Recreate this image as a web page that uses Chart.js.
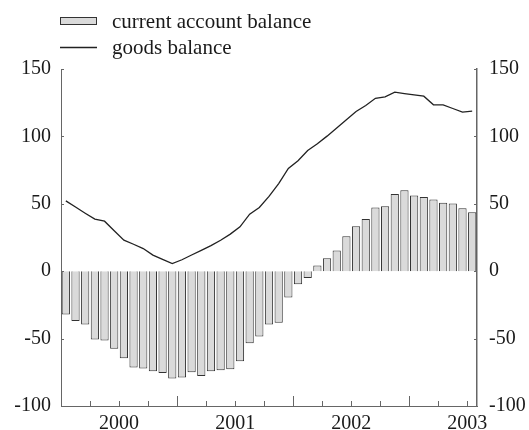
<!DOCTYPE html>
<html>
<head>
<meta charset="utf-8">
<script src="https://cdn.jsdelivr.net/npm/chart.js@4/dist/chart.umd.min.js"></script>
<style>
  html, body { margin: 0; padding: 0; background: #fff; }
  #wrap { width: 529px; height: 430px; }
</style>
</head>
<body>
<div id="wrap"><canvas id="chart" width="529" height="430"></canvas></div>
<script>
// monthly, Jan 2000 - Jul 2003
const months = [];
for (let y = 2000; y <= 2003; y++) {
  for (let m = 1; m <= 12; m++) {
    if (y == 2003 && m > 7) break;
    months.push(y + "-" + String(m).padStart(2, "0"));
  }
}

const currentAccount = [
  -32.1, -36.9, -39.5, -50.7, -51.4, -57.6, -64.5, -71.4, -72.2, -74.2, -75.5, -79.6,
  -78.9, -74.9, -77.7, -74.2, -73.4, -72.7, -66.8, -53.4, -48.4, -39.5, -38.3, -19.5,
  -9.6, -5.0, 4.2, 9.6, 15.4, 26.0, 33.4, 38.8, 47.3, 48.2, 57.3, 60.1,
  56.2, 55.1, 53.2, 50.7, 50.2, 46.7, 43.8,
];

const goodsBalance = [
  52.2, 47.6, 43.0, 38.6, 37.1, 30.0, 23.0, 20.0, 16.8, 11.9, 8.8, 5.7,
  8.5, 12.0, 15.5, 19.0, 23.0, 27.5, 32.9, 42.3, 47.3, 55.5, 65.0, 76.2,
  82.0, 89.5, 94.5, 100.2, 106.2, 112.3, 118.5, 122.9, 128.3, 129.3, 132.8, 131.8,
  130.8, 129.8, 123.4, 123.4, 120.7, 118.0, 118.7,
];

const yearLabels = { 5: "2000", 17: "2001", 29: "2002", 41: "2003" };
const seriesNames = ["current account balance", "goods balance"];

const barFill = "#dadada";
const barEdge = "#333333";
const axisColor = "#666666";
const textColor = "#1a1a1a";

Chart.defaults.font.family = "'Liberation Serif', 'DejaVu Serif', serif";
Chart.defaults.font.size = 20;
Chart.defaults.color = textColor;

const legendPlugin = {
  id: "stackedLegend",
  afterDraw(chart) {
    const ctx = chart.ctx;
    ctx.save();
    ctx.fillStyle = barFill;
    ctx.fillRect(60.5, 17.5, 36, 7);
    ctx.strokeStyle = barEdge;
    ctx.lineWidth = 1;
    ctx.strokeRect(60.5, 17.5, 36, 7);
    ctx.beginPath();
    ctx.moveTo(60, 47.5);
    ctx.lineTo(97, 47.5);
    ctx.lineWidth = 1.3;
    ctx.strokeStyle = "#222";
    ctx.stroke();
    ctx.fillStyle = textColor;
    ctx.font = "21px 'Liberation Serif', serif";
    ctx.textBaseline = "middle";
    ctx.fillText(seriesNames[0], 112, 22);
    ctx.fillText(seriesNames[1], 112, 48);
    ctx.restore();
  },
};

const tickPlugin = {
  id: "innerTicks",
  afterDraw(chart) {
    const ctx = chart.ctx;
    const x = chart.scales.x;
    const y = chart.scales.y;
    const area = chart.chartArea;
    ctx.save();
    ctx.strokeStyle = axisColor;
    ctx.lineWidth = 1;
    ctx.beginPath();
    for (let k = 3; k < months.length; k += 3) {
      const px = Math.round((x.getPixelForValue(k - 1) + x.getPixelForValue(k)) / 2) + 0.5;
      const len = k % 12 == 0 ? 10 : 5;
      ctx.moveTo(px, area.bottom);
      ctx.lineTo(px, area.bottom - len);
    }
    y.ticks.forEach((t) => {
      const py = Math.round(y.getPixelForValue(t.value)) + 0.5;
      ctx.moveTo(area.left, py);
      ctx.lineTo(area.left + 3, py);
      ctx.moveTo(area.right, py);
      ctx.lineTo(area.right - 3, py);
    });
    ctx.stroke();
    ctx.restore();
  },
};

new Chart(document.getElementById("chart"), {
  type: "bar",
  data: {
    labels: months,
    datasets: [
      {
        type: "bar",
        label: seriesNames[0],
        data: currentAccount,
        backgroundColor: barFill,
        borderColor: barEdge,
        borderWidth: 1,
        barPercentage: 0.85,
        categoryPercentage: 1,
        order: 2,
        yAxisID: "y",
      },
      {
        type: "line",
        label: seriesNames[1],
        data: goodsBalance,
        borderColor: "#222",
        borderWidth: 1.3,
        pointRadius: 0,
        tension: 0,
        fill: false,
        order: 1,
        yAxisID: "y",
      },
    ],
  },
  options: {
    responsive: false,
    animation: false,
    layout: { padding: { top: 69, left: 0, right: 0, bottom: 0 } },
    plugins: {
      legend: { display: false },
      tooltip: { enabled: false },
    },
    scales: {
      x: {
        offset: true,
        grid: { display: false, drawTicks: false },
        border: { display: true, color: axisColor, width: 1 },
        ticks: {
          autoSkip: false,
          maxRotation: 0,
          padding: 6,
          labelOffset: 4.84,
          callback: (v, i) => yearLabels[i] || "",
        },
        afterFit: (scale) => { scale.height = 24; },
      },
      y: {
        position: "left",
        min: -100,
        max: 150,
        ticks: { stepSize: 50, padding: 10 },
        grid: { display: false, drawTicks: false },
        border: { display: true, color: axisColor, width: 1 },
        afterFit: (scale) => { scale.width = 61; },
      },
      y2: {
        position: "right",
        min: -100,
        max: 150,
        ticks: { stepSize: 50, padding: 12 },
        grid: { display: false, drawTicks: false },
        border: { display: true, color: axisColor, width: 1.5 },
        afterFit: (scale) => { scale.width = 52; },
      },
    },
  },
  plugins: [legendPlugin, tickPlugin],
});
</script>
</body>
</html>
